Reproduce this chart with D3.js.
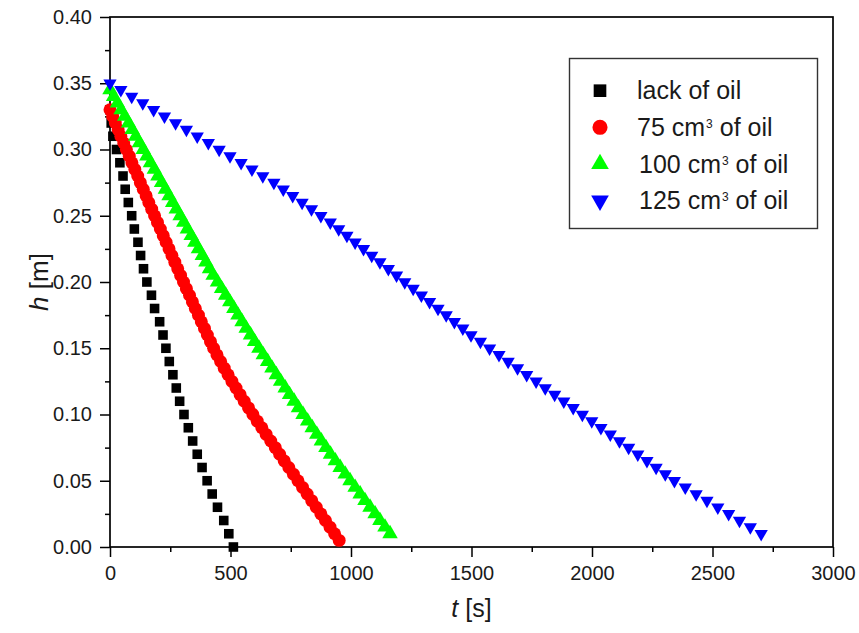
<!DOCTYPE html>
<html>
<head>
<meta charset="utf-8">
<script src="https://cdn.jsdelivr.net/npm/d3@7"></script>
<style>
  body { margin: 0; background: #fff; }
  svg { font-family: "Liberation Sans", Arial, sans-serif; }
</style>
</head>
<body>
<svg width="859" height="633"></svg>
<script>
// setup parameters
let width = 859;
let height = 633;
let margin = {left: 110, right: 26, top: 17, bottom: 86};

// series: time t [s] and level h [m]
let seriesNames = ['lack of oil', '75', '100', '125'];

let hBlack = [0.33, 0.32, 0.31, 0.30, 0.29, 0.28, 0.27, 0.26, 0.25, 0.24, 0.23, 0.22, 0.21, 0.20, 0.19, 0.18, 0.17,
  0.16, 0.15, 0.14, 0.13, 0.12, 0.11, 0.10, 0.09, 0.08, 0.07, 0.06, 0.05, 0.04, 0.03, 0.02, 0.01, 0.00];
let tBlack = [0, 5, 12, 27, 41, 54, 63, 76, 90, 101, 116, 127, 139, 153, 172, 185, 206,
  220, 232, 246, 261, 275, 289, 307, 325, 343, 362, 382, 403, 424, 446, 472, 493, 512];

let hRed = [0.330, 0.325, 0.320, 0.315, 0.310, 0.305, 0.300, 0.295, 0.290, 0.285, 0.280, 0.275, 0.270, 0.265,
  0.260, 0.255, 0.250, 0.245, 0.240, 0.235, 0.230, 0.225, 0.220, 0.215, 0.210, 0.205, 0.200, 0.195, 0.190,
  0.185, 0.180, 0.175, 0.170, 0.165, 0.160, 0.155, 0.150, 0.145, 0.140, 0.135, 0.130, 0.125, 0.120, 0.115,
  0.110, 0.105, 0.100, 0.095, 0.090, 0.085, 0.080, 0.075, 0.070, 0.065, 0.060, 0.055, 0.050, 0.045, 0.040,
  0.035, 0.030, 0.025, 0.020, 0.015, 0.010, 0.005];
let tRed = [0, 11, 22, 34, 45, 57, 68, 80, 91, 103, 115, 126, 138, 150,
  161, 173, 185, 197, 209, 221, 233, 245, 257, 269, 281, 293, 305, 317, 330,
  342, 354, 367, 379, 392, 404, 417, 430, 444, 459, 474, 490, 506, 523, 540,
  557, 575, 593, 611, 630, 648, 667, 686, 704, 723, 742, 761, 780, 799, 818,
  837, 856, 875, 894, 913, 932, 951];

let hGreen = [0.345, 0.340, 0.335, 0.330, 0.325, 0.320, 0.315, 0.310, 0.305, 0.300, 0.295, 0.290, 0.285,
  0.280, 0.275, 0.270, 0.265, 0.260, 0.255, 0.250, 0.245, 0.240, 0.235, 0.230, 0.225, 0.220, 0.215, 0.210,
  0.205, 0.200, 0.195, 0.190, 0.185, 0.180, 0.175, 0.170, 0.165, 0.160, 0.155, 0.150, 0.145, 0.140, 0.135,
  0.130, 0.125, 0.120, 0.115, 0.110, 0.105, 0.100, 0.095, 0.090, 0.085, 0.080, 0.075, 0.070, 0.065, 0.060,
  0.055, 0.050, 0.045, 0.040, 0.035, 0.030, 0.025, 0.020, 0.015, 0.010];
let tGreen = [0, 15, 31, 46, 61, 77, 92, 107, 122, 138, 153, 168, 184,
  199, 214, 230, 245, 260, 275, 291, 306, 321, 337, 352, 367, 383, 398, 413,
  428, 446, 463, 480, 497, 514, 531, 548, 565, 583, 600, 618, 636, 654, 672,
  690, 708, 727, 745, 764, 782, 801, 820, 839, 858, 877, 896, 915, 935, 955,
  976, 996, 1017, 1038, 1058, 1079, 1100, 1120, 1141, 1162];

let hBlue = [0.350, 0.345, 0.340, 0.335, 0.330, 0.325, 0.320, 0.315, 0.310, 0.305, 0.300, 0.295, 0.290,
  0.285, 0.280, 0.275, 0.270, 0.265, 0.260, 0.255, 0.250, 0.245, 0.240, 0.235, 0.230, 0.225, 0.220, 0.215,
  0.210, 0.205, 0.200, 0.195, 0.190, 0.185, 0.180, 0.175, 0.170, 0.165, 0.160, 0.155, 0.150, 0.145, 0.140,
  0.135, 0.130, 0.125, 0.120, 0.115, 0.110, 0.105, 0.100, 0.095, 0.090, 0.085, 0.080, 0.075, 0.070, 0.065,
  0.060, 0.055, 0.050, 0.045, 0.040, 0.035, 0.030, 0.025, 0.020, 0.015, 0.010];
let tBlue = [0, 45, 90, 136, 181, 226, 272, 317, 362, 408, 453, 498, 544,
  589, 634, 680, 719, 758, 797, 836, 875, 914, 949, 983, 1017, 1052, 1086, 1120,
  1155, 1189, 1223, 1258, 1292, 1326, 1361, 1395, 1429, 1464, 1498, 1537, 1575, 1614, 1652,
  1691, 1729, 1768, 1806, 1845, 1883, 1922, 1960, 1999, 2037, 2076, 2114, 2152, 2190, 2228,
  2266, 2304, 2342, 2387, 2432, 2477, 2522, 2567, 2612, 2657, 2702];

// axis ticks
let xMajor = [0, 500, 1000, 1500, 2000, 2500, 3000];
let xMinor = [250, 750, 1250, 1750, 2250, 2750];
let yMajor = [0.00, 0.05, 0.10, 0.15, 0.20, 0.25, 0.30, 0.35, 0.40];
let yMinor = [0.025, 0.075, 0.125, 0.175, 0.225, 0.275, 0.325, 0.375];

// one entry per series, symbol + colour
let series = [
  {name: seriesNames[0], t: tBlack, h: hBlack, color: '#000000', shape: d3.symbolSquare, size: 92, rot: 0, legSize: 160},
  {name: seriesNames[1], t: tRed, h: hRed, color: '#ff0000', shape: d3.symbolCircle, size: 132, rot: 0, legSize: 180},
  {name: seriesNames[2], t: tGreen, h: hGreen, color: '#00ff00', shape: d3.symbolTriangle, size: 104, rot: 0, legSize: 135},
  {name: seriesNames[3], t: tBlue, h: hBlue, color: '#0000ff', shape: d3.symbolTriangle, size: 76, rot: 180, legSize: 135}
];

let svg = d3.select('svg');

let x = d3.scaleLinear()
  .domain([0, 3000])
  .range([margin.left, width - margin.right]);

let y = d3.scaleLinear()
  .domain([0, 0.40])
  .range([height - margin.bottom, margin.top]);

// minor ticks first, no labels
svg.append('g')
  .attr('transform', `translate(0,${height - margin.bottom})`)
  .call(d3.axisBottom(x).tickValues(xMinor).tickSize(5).tickFormat(''))
  .call(g => g.select('.domain').remove());

svg.append('g')
  .attr('transform', `translate(${margin.left},0)`)
  .call(d3.axisLeft(y).tickValues(yMinor).tickSize(5).tickFormat(''))
  .call(g => g.select('.domain').remove());

// major ticks with labels
svg.append('g')
  .attr('transform', `translate(0,${height - margin.bottom})`)
  .call(d3.axisBottom(x).tickValues(xMajor).tickSize(10).tickPadding(9).tickFormat(d3.format('d')))
  .call(g => g.select('.domain').remove());

svg.append('g')
  .attr('transform', `translate(${margin.left},0)`)
  .call(d3.axisLeft(y).tickValues(yMajor).tickSize(10).tickPadding(8).tickFormat(d3.format('.2f')))
  .call(g => g.select('.domain').remove());

svg.selectAll('.tick line')
  .attr('stroke', '#000')
  .attr('stroke-width', 1.5);

svg.selectAll('.tick text')
  .attr('fill', '#1a1a1a')
  .style('font-size', '20px')
  .style('font-family', '"Liberation Sans", Arial, sans-serif');

// frame around the plot
svg.append('rect')
  .attr('x', x(0))
  .attr('y', y(0.40))
  .attr('width', x(3000) - x(0))
  .attr('height', y(0) - y(0.40))
  .attr('fill', 'none')
  .attr('stroke', '#000')
  .attr('stroke-width', 1.7);

// markers
series.forEach(s => {
  let sym = d3.symbol().type(s.shape).size(s.size);
  svg.append('g')
    .selectAll('path')
    .data(d3.range(s.t.length))
    .enter()
    .append('path')
    .attr('d', sym)
    .attr('transform', i => `translate(${x(s.t[i])},${y(s.h[i])}) rotate(${s.rot})`)
    .attr('fill', s.color);
});

// axis titles
svg.append('text')
  .attr('transform', `translate(48,${(y(0) + y(0.40)) / 2}) rotate(-90)`)
  .attr('text-anchor', 'middle')
  .style('font-size', '26px')
  .attr('fill', '#1a1a1a')
  .html('<tspan font-style="italic">h</tspan> [m]');

svg.append('text')
  .attr('x', (x(0) + x(3000)) / 2)
  .attr('y', 617)
  .attr('text-anchor', 'middle')
  .style('font-size', '25px')
  .attr('fill', '#1a1a1a')
  .html('<tspan font-style="italic">t</tspan> [s]');

// legend
let legend = svg.append('g');
legend.append('rect')
  .attr('x', 569.5)
  .attr('y', 58.5)
  .attr('width', 248)
  .attr('height', 170)
  .attr('fill', '#fff')
  .attr('stroke', '#333')
  .attr('stroke-width', 1.4);

let legRows = [90.7, 127.3, 164, 200.7];
series.forEach((s, i) => {
  legend.append('path')
    .attr('d', d3.symbol().type(s.shape).size(s.legSize))
    .attr('transform', `translate(600,${legRows[i]}) rotate(${s.rot})`)
    .attr('fill', s.color);
  let txt = legend.append('text')
    .attr('x', i < 2 ? 637 : 639)
    .attr('y', legRows[i] + 8.5)
    .style('font-size', '25px')
    .attr('fill', '#1a1a1a');
  if (i === 0) {
    txt.text(s.name);
  } else {
    txt.append('tspan').text(s.name + ' cm');
    txt.append('tspan').attr('dy', -8).attr('dx', 1).style('font-size', '12px').text('3');
    txt.append('tspan').attr('dy', 8).text(' of oil');
  }
});
</script>
</body>
</html>
